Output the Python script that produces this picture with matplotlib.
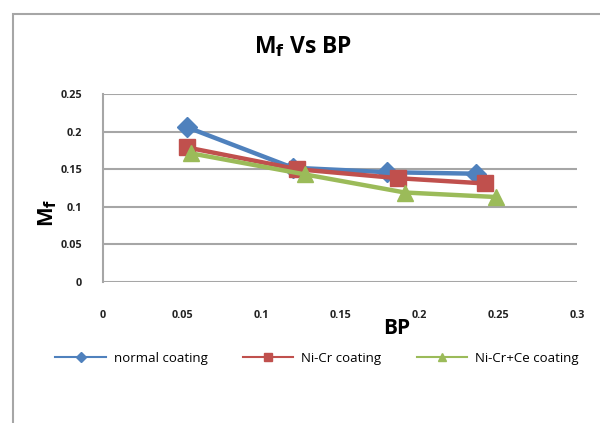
import matplotlib
matplotlib.use("Agg")
import matplotlib.pyplot as plt
from matplotlib.lines import Line2D
from matplotlib.patches import Rectangle

# data
normal_x = [0.053, 0.120, 0.180, 0.236]
normal_y = [0.206, 0.152, 0.146, 0.144]
nicr_x = [0.053, 0.123, 0.187, 0.242]
nicr_y = [0.179, 0.150, 0.138, 0.131]
nicrce_x = [0.056, 0.128, 0.191, 0.249]
nicrce_y = [0.171, 0.143, 0.119, 0.113]

series_names = ["normal coating", "Ni-Cr coating", "Ni-Cr+Ce coating"]
colors = ["#4F81BD", "#C0504D", "#9BBB59"]
markers = ["D", "s", "^"]
sizes = [10.5, 11, 12]

x_ticks = [0, 0.05, 0.1, 0.15, 0.2, 0.25, 0.3]
x_labels = ["0", "0.05", "0.1", "0.15", "0.2", "0.25", "0.3"]
y_ticks = [0, 0.05, 0.1, 0.15, 0.2, 0.25]
y_labels = ["0", "0.05", "0.1", "0.15", "0.2", "0.25"]

plt.rcParams['font.family'] = ['Open Sans', 'DejaVu Sans']

fig = plt.figure(figsize=(6, 4.23), dpi=100)
fig.patch.set_facecolor("white")

# outer chart frame
fig.patches.append(Rectangle((13 / 600, -0.1), 1.2, 1 - 14 / 423 + 0.1,
                             transform=fig.transFigure, fill=False,
                             edgecolor="#A6A6A6", linewidth=1.5))

ax = fig.add_axes([103 / 600, 1 - 282 / 423, 474 / 600, 188 / 423])

data = [(normal_x, normal_y), (nicr_x, nicr_y), (nicrce_x, nicrce_y)]
for (xs, ys), c, m, s in zip(data, colors, markers, sizes):
    ax.plot(xs, ys, color=c, linewidth=3.2, marker=m, markersize=s,
            markeredgecolor=c, zorder=3)

ax.set_xlim(0, 0.3)
ax.set_ylim(0, 0.25)
ax.set_xticks(x_ticks)
ax.set_xticklabels(x_labels)
ax.set_yticks(y_ticks)
ax.set_yticklabels(y_labels)
ax.tick_params(length=0, labelsize=7.8, pad=20)
ax.tick_params(axis="y", pad=15)
for lab in ax.get_xticklabels() + ax.get_yticklabels():
    lab.set_fontweight("bold")
    lab.set_color("#222222")

ax.grid(axis="y", color="#A6A6A6", linewidth=1.5)
ax.set_axisbelow(True)
for side in ["top", "right", "bottom"]:
    ax.spines[side].set_visible(False)
ax.spines["left"].set_color("#A6A6A6")
ax.spines["left"].set_linewidth(1.5)

fig.text(303 / 600, 1 - 47 / 423, "M$_\\mathbf{f}$ Vs BP", ha="center", va="center",
         fontsize=16.5, fontweight="bold")
fig.text(397 / 600, 1 - 328 / 423, "BP", ha="center", va="center",
         fontsize=15, fontweight="bold")
fig.text(48 / 600, 1 - 213 / 423, "M$_\\mathbf{f}$", ha="center", va="center",
         fontsize=15, fontweight="bold", rotation=90)

handles = [Line2D([0], [0], color=c, marker=m, markersize=5.5, linewidth=1.5)
           for c, m in zip(colors, markers)]
leg = fig.legend(handles, series_names, loc="center",
                 bbox_to_anchor=(317 / 600, 1 - 358 / 423), ncol=3,
                 frameon=False, fontsize=9.5, handlelength=3.8,
                 columnspacing=2.7, handletextpad=0.6)

plt.savefig("out.png", dpi=100)
